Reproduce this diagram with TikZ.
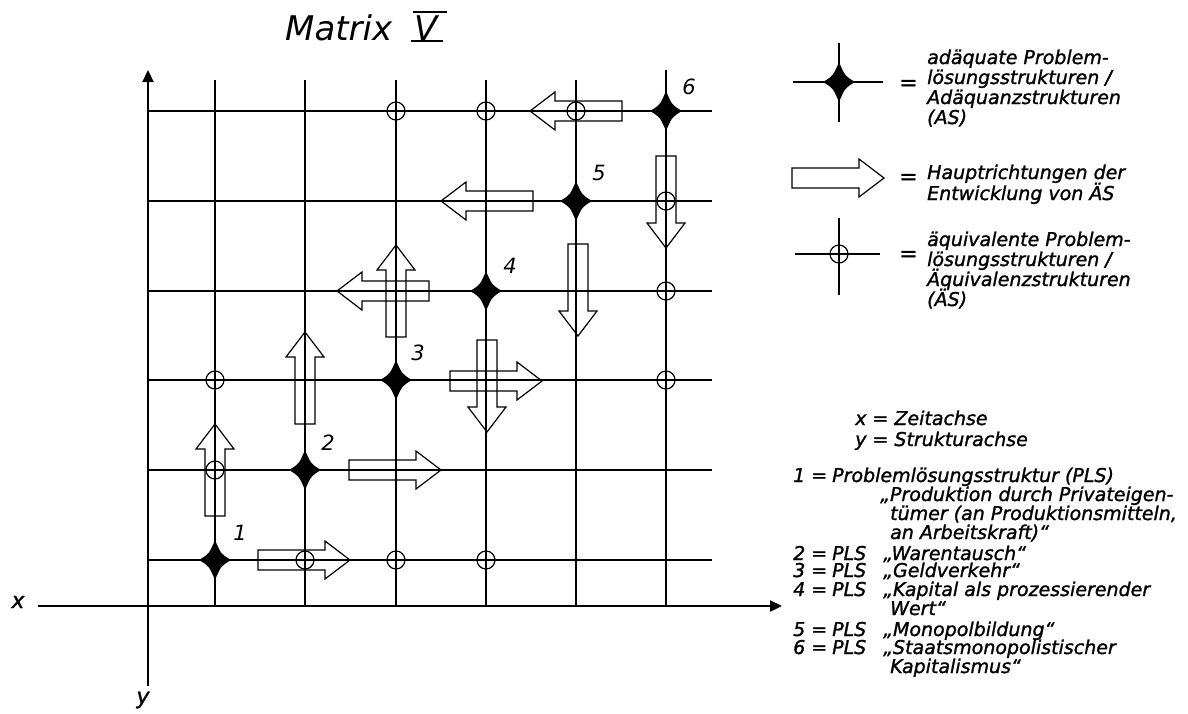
\documentclass[tikz,border=0pt]{standalone}
\usepackage{fontspec}
\setmainfont{DejaVu Sans}
\newfontfamily\handfont{DejaVu Sans}[ItalicFeatures={FakeBold=1.3}]
\usetikzlibrary{arrows.meta}
\tikzset{
  gridline/.style={line width=1.1pt},
  axisline/.style={line width=2.3pt,-{Triangle[length=12pt,width=11pt]}},
  eqcirc/.style={circle,draw,line width=1.2pt,minimum size=18pt,inner sep=0pt},
  lg/.style={anchor=base west,inner sep=0pt,font=\fontsize{19}{20}\handfont\itshape},
  eqs/.style={anchor=base west,inner sep=0pt,font=\fontsize{22}{22}\handfont\itshape},
  num/.style={inner sep=0pt,font=\fontsize{21}{21}\selectfont\itshape},
  adstar/.pic={\fill (0,-20) .. controls (6,-6) .. (16,0) .. controls (6,6) .. (0,20) .. controls (-6,6) .. (-16,0) .. controls (-6,-6) .. cycle;},
  blockarr/.pic={\draw[line width=1.2pt,line join=miter] (-46,-10) -- (21,-10) -- (21,-19) -- (46,0) -- (21,19) -- (21,10) -- (-46,10) -- cycle;},
}
\begin{document}
\begin{tikzpicture}[x=1pt,y=-1pt]
\useasboundingbox (0,0) rectangle (1188,713);
% title
\node[anchor=base west,inner sep=0pt,font=\fontsize{34}{34}\selectfont\itshape] (title) at (285,40) {Matrix};
\node[anchor=base west,inner sep=0pt,font=\fontsize{34}{34}\selectfont\itshape] (romanV) at (414,40) {V};
\coordinate (vt1) at (413,12); \coordinate (vt2) at (447,12);
\coordinate (vb1) at (411,41); \coordinate (vb2) at (443,41);
\draw[line width=1.2pt] (vt1) -- (vt2) (vb1) -- (vb2);
% grid
\foreach \c in {215,305,396,486,576} { \draw[gridline] (\c,80) -- (\c,606); }
\draw[gridline] (666,70) -- (666,606);
\foreach \r in {560,470,380,291,201,111} { \draw[gridline] (148,\r) -- (712,\r); }
% axes
\coordinate (yb) at (148,686); \coordinate (yt) at (148,70);
\coordinate (xl) at (38,606); \coordinate (xr) at (782,606);
\draw[axisline] (yb) -- (yt);
\draw[axisline] (xl) -- (xr);
\node[num,font=\fontsize{22}{22}\handfont\itshape] (xlab) at (18,602) {x};
\node[num,font=\fontsize{22}{22}\handfont\itshape] (ylab) at (143,700) {y};
% adequate structures (stars)
\pic (s1) at (215,560) {adstar};
\pic (s2) at (305,470) {adstar};
\pic (s3) at (396,380) {adstar};
\pic (s4) at (486,291) {adstar};
\pic (s5) at (576,201) {adstar};
\pic (s6) at (666,111) {adstar};
\node[num] (n1) at (240,533) {1};
\node[num] (n2) at (328,443) {2};
\node[num] (n3) at (418,353) {3};
\node[num] (n4) at (510,266) {4};
\node[num] (n5) at (599,173) {5};
\node[num] (n6) at (689,87) {6};
% equivalent structures (circles)
\node[eqcirc] (c1) at (215,380) {};
\node[eqcirc] (c2) at (215,470) {};
\node[eqcirc] (c3) at (305,560) {};
\node[eqcirc] (c4) at (396,560) {};
\node[eqcirc] (c5) at (486,560) {};
\node[eqcirc] (c6) at (666,380) {};
\node[eqcirc] (c7) at (666,291) {};
\node[eqcirc] (c8) at (666,201) {};
\node[eqcirc] (c9) at (396,111) {};
\node[eqcirc] (c10) at (486,111) {};
\node[eqcirc] (c11) at (576,111) {};
% main directions (block arrows)
\pic (a1) at (304,560) {blockarr};
\pic[rotate=90] (a2) at (215,470) {blockarr};
\pic[rotate=90] (a3) at (305,378) {blockarr};
\pic (a4) at (395,470) {blockarr};
\pic[rotate=90] (a5) at (396,291) {blockarr};
\pic[rotate=180] (a6) at (383,291) {blockarr};
\pic[rotate=270] (a7) at (487,386) {blockarr};
\pic (a8) at (496,381) {blockarr};
\pic[rotate=180] (a9) at (487,201) {blockarr};
\pic[rotate=270] (a10) at (578,290) {blockarr};
\pic[rotate=180] (a11) at (576,111) {blockarr};
\pic[rotate=270] (a12) at (666,202) {blockarr};
% legend symbols
\draw[gridline] (793,82) -- (883,82) (839,43) -- (839,122);
\pic (ls) at (839,82) {adstar};
\pic (la) at (838,178) {blockarr};
\draw[gridline] (795,254) -- (880,254) (839,218) -- (839,295);
\node[eqcirc] (lc) at (839,254) {};
\node[eqs] (eq1) at (899,90) {=};
\node[eqs] (eq2) at (899,184) {=};
\node[eqs] (eq3) at (899,261) {=};
\node[lg] (t11) at (927,64) {adäquate Problem-};
\node[lg] (t12) at (927,84) {lösungsstrukturen /};
\node[lg] (t13) at (927,104) {Adäquanzstrukturen};
\node[lg] (t14) at (927,124) {(AS)};
\node[lg] (t21) at (927,179) {Hauptrichtungen der};
\node[lg] (t22) at (927,200) {Entwicklung von ÄS};
\node[lg] (t31) at (927,246) {äquivalente Problem-};
\node[lg] (t32) at (927,266) {lösungsstrukturen /};
\node[lg] (t33) at (927,286) {Äquivalenzstrukturen};
\node[lg] (t34) at (927,306) {(ÄS)};
% bottom legend
\node[lg] (b1) at (855,425) {x = Zeitachse};
\node[lg] (b2) at (855,446) {y = Strukturachse};
\node[lg] (p1) at (793,482) {1 =};
\node[lg] (p1t) at (832,482) {Problemlösungsstruktur (PLS)};
\node[lg] (p1a) at (880,501) {„Produktion durch Privateigen-};
\node[lg] (p1b) at (890,520) {tümer (an Produktionsmitteln,};
\node[lg] (p1c) at (890,539) {an Arbeitskraft)“};
\node[lg] (p2) at (793,560) {2 =};
\node[lg] (p2p) at (832,560) {PLS};
\node[lg] (p2t) at (883,560) {„Warentausch“};
\node[lg] (p3) at (793,577) {3 =};
\node[lg] (p3p) at (832,577) {PLS};
\node[lg] (p3t) at (883,577) {„Geldverkehr“};
\node[lg] (p4) at (793,596) {4 =};
\node[lg] (p4p) at (832,596) {PLS};
\node[lg] (p4t) at (883,596) {„Kapital als prozessierender};
\node[lg] (p4b) at (890,615) {Wert“};
\node[lg] (p5) at (793,636) {5 =};
\node[lg] (p5p) at (832,636) {PLS};
\node[lg] (p5t) at (883,636) {„Monopolbildung“};
\node[lg] (p6) at (793,654) {6 =};
\node[lg] (p6p) at (832,654) {PLS};
\node[lg] (p6t) at (883,654) {„Staatsmonopolistischer};
\node[lg] (p6b) at (890,673) {Kapitalismus“};
\end{tikzpicture}
\end{document}
